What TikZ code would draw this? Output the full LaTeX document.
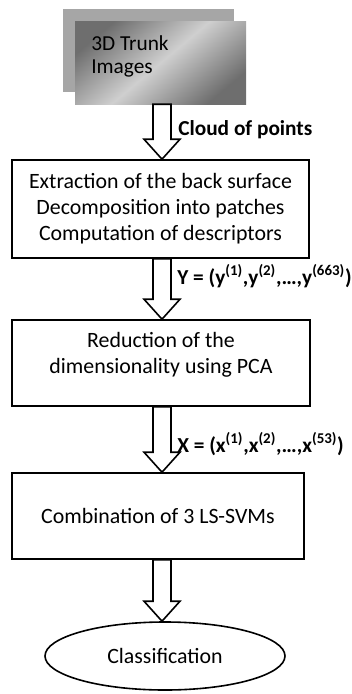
\documentclass[tikz,border=0pt]{standalone}
\usepackage{fontspec}
\setmainfont{Carlito}
\usetikzlibrary{calc,shapes.geometric}
\definecolor{backgrey}{HTML}{A6A6A6}
\definecolor{darkgrey}{HTML}{6E6E6E}
\definecolor{lightgrey}{HTML}{CFCFCF}
\tikzset{
  procbox/.style={draw=black, line width=1.2pt, fill=white, inner sep=0pt, font=\fontsize{16.4pt}{19.5pt}\selectfont, align=center},
  lbl/.style={font=\bfseries\fontsize{16pt}{18pt}\selectfont, anchor=west, inner sep=0pt},
  blockarr/.style={draw=black, line width=1.2pt, fill=white, line join=miter},
}
\newcommand\blockarrow[2]{%
  \draw[blockarr] let \p1=(#1), \p2=(#2) in
    (\x1-6.75pt,\y1) -- (\x1+6.75pt,\y1) -- (\x1+6.75pt,\y2+15pt) -- (\x1+13.5pt,\y2+15pt)
    -- (\x1,\y2) -- (\x1-13.5pt,\y2+15pt) -- (\x1-6.75pt,\y2+15pt) -- cycle;}
\begin{document}
\begin{tikzpicture}[x=0.75pt,y=-0.75pt]
\useasboundingbox (0,0) rectangle (352,694);
% images stack
\fill[backgrey] (63,9) rectangle (234,92);
\node[minimum width=171*0.75pt, minimum height=83*0.75pt, inner sep=0pt,
      left color=darkgrey, right color=darkgrey, middle color=lightgrey, shading angle=40] (img) at (160.5,62.5) {};
\node[anchor=base west, align=left, inner sep=0pt, font=\fontsize{16pt}{17.25pt}\selectfont] (imgtxt) at (91,73) {3D Trunk\\Images};
\coordinate (ax) at (162,0);
% boxes
\node[procbox, minimum width=297*0.75pt, minimum height=98*0.75pt] (b1) at (160.5,209)
  {Extraction of the back surface\\Decomposition into patches\\Computation of descriptors};
\node[procbox, minimum width=298*0.75pt, minimum height=86*0.75pt] (b2) at (161,363)
  {Reduction of the\\dimensionality using PCA\\[-4.5pt]\mbox{}};
\node[procbox, minimum width=292*0.75pt, minimum height=86*0.75pt] (b3) at (158,516)
  {Combination of 3 LS-SVMs};
\node[procbox, ellipse, minimum width=240*0.75pt, minimum height=68*0.75pt] (cl) at (165,656)
  {Classification};
% arrows
\blockarrow{img.south -| ax}{b1.north -| ax}
\blockarrow{b1.south -| ax}{b2.north -| ax}
\blockarrow{b2.south -| ax}{b3.north -| ax}
\blockarrow{b3.south -| ax}{cl.north -| ax}
% labels
\node[lbl] (l1) at (178,130) {Cloud of points};
\node[lbl] (l2) at (177,276) {Y = (y\textsuperscript{(1)},y\textsuperscript{(2)},\dots,y\textsuperscript{(663)})};
\node[lbl] (l3) at (177,444) {X = (x\textsuperscript{(1)},x\textsuperscript{(2)},\dots,x\textsuperscript{(53)})};
\end{tikzpicture}
\end{document}
